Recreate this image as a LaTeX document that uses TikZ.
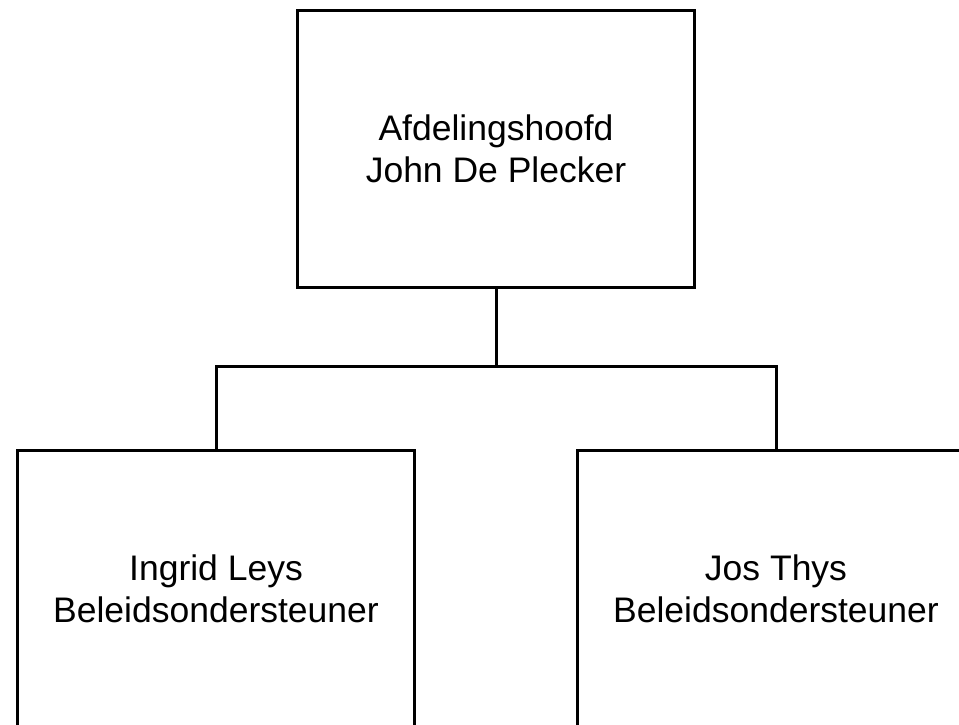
\documentclass[tikz,border=0pt]{standalone}
\usepackage{fontspec}
\setmainfont{Liberation Sans}
\usepackage{tikz}

\tikzset{functie/.style={draw, line width=3pt, minimum width=397pt, minimum height=277pt,
  align=center, font=\fontsize{35.5}{42}\selectfont, inner sep=0pt}}

\begin{document}
\begin{tikzpicture}[x=1pt,y=1pt,line width=3pt]
  \useasboundingbox (0,0) rectangle (959,724);
  \clip (0,0) rectangle (959,724);
  \node[functie] (hoofd) at (496,575) {Afdelingshoofd\\John De Plecker};
  \node[functie] (ingrid) at (216,135) {Ingrid Leys\\Beleidsondersteuner};
  \node[functie] (jos) at (776,135) {Jos Thys\\Beleidsondersteuner};
%  \coordinate (midden) at (496,357);
  \draw (hoofd.south) -- ++(0,-78) coordinate (midden);
  \draw (ingrid.north) |- (midden) -| (jos.north);
\end{tikzpicture}
\end{document}
